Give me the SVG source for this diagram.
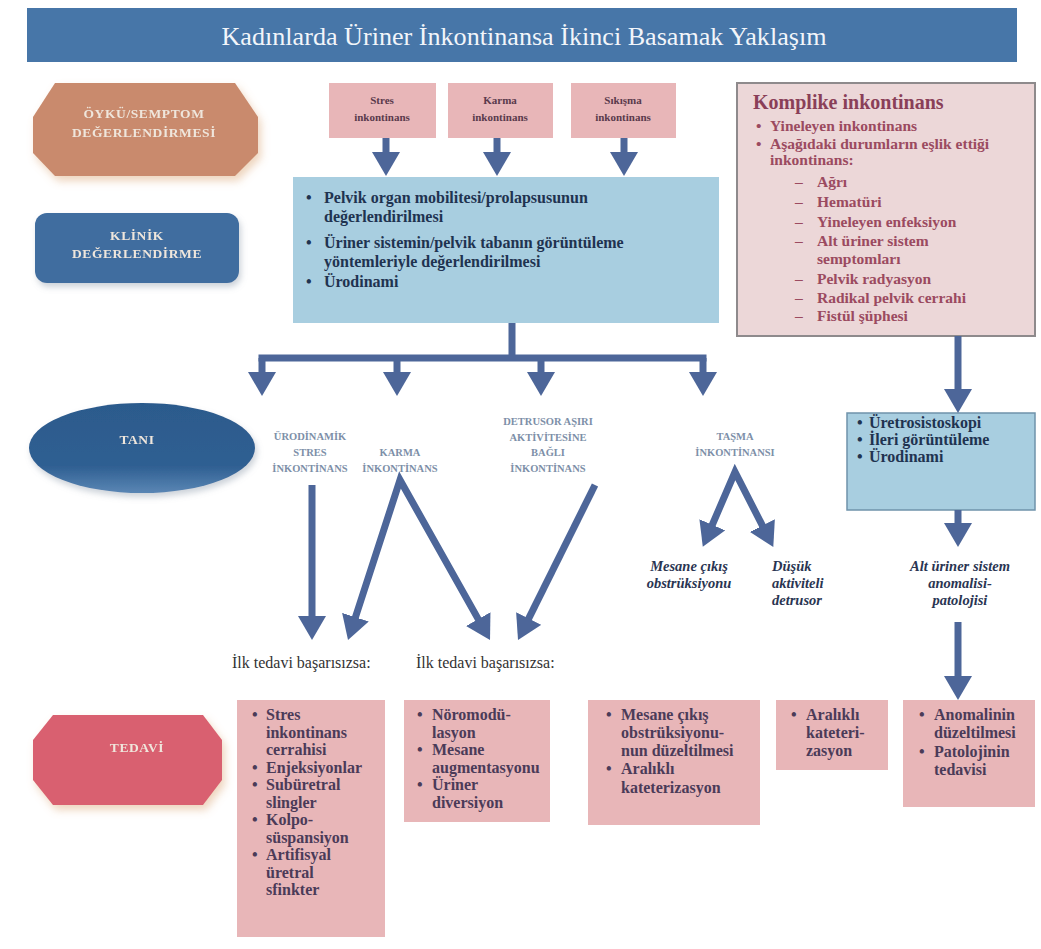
<svg xmlns="http://www.w3.org/2000/svg" width="1041" height="949" viewBox="0 0 1041 949">
<style>
text{font-family:"Liberation Serif","Times New Roman",serif}
.lbl{font-weight:bold;font-size:13.5px;fill:#efe6dc;text-anchor:middle;letter-spacing:0.6px}
.pk{fill:#e8b6b8}
.pkt{font-weight:bold;font-size:11px;fill:#5a3a4c;text-anchor:middle}
.bt{font-weight:bold;font-size:16px;fill:#1f3350}
.kt{font-weight:bold;font-size:15.5px;fill:#9b4a60}
.dx{font-weight:bold;font-size:10.5px;fill:#7d8fa8;text-anchor:middle}
.it{font-weight:bold;font-style:italic;font-size:14.5px;fill:#2a3552}
.ilk{font-size:16px;fill:#333}
.tt{font-weight:bold;font-size:16px;fill:#4b3b58}
.conn{fill:none;stroke:#4d6699;stroke-width:7}
</style>
<defs>
<marker id="ah" viewBox="0 0 24 28" refX="4" refY="14" markerWidth="24" markerHeight="28" markerUnits="userSpaceOnUse" orient="auto-start-reverse">
<path d="M0,0 L24,14 L0,28 z" fill="#4d6699"/>
</marker>
<filter id="sh" x="-20%" y="-20%" width="140%" height="160%">
<feDropShadow dx="3" dy="5" stdDeviation="4" flood-color="#d9a070" flood-opacity="0.45"/>
</filter>
<filter id="sh2" x="-20%" y="-20%" width="140%" height="160%">
<feDropShadow dx="2" dy="4" stdDeviation="3" flood-color="#8090a0" flood-opacity="0.4"/>
</filter>
<linearGradient id="tg" x1="0" y1="0" x2="0" y2="1">
<stop offset="0" stop-color="#2c5a8c"/>
<stop offset="0.7" stop-color="#2f5f92"/>
<stop offset="1" stop-color="#5a86b4"/>
</linearGradient>
</defs>
<rect width="1041" height="949" fill="#ffffff"/>

<g id="title">
<rect x="27" y="8" width="990" height="54" fill="#4776a8"/>
<text x="524" y="45" font-size="26" fill="#f2f5fa" text-anchor="middle" textLength="605" lengthAdjust="spacingAndGlyphs">Kadınlarda Üriner İnkontinansa İkinci Basamak Yaklaşım</text>
</g>

<g id="oyku" filter="url(#sh)">
<polygon points="55,83 235,83 258,117 258,153 235,176 55,176 33,153 33,117" fill="#c98a6d"/>
<text class="lbl" x="144" y="118">ÖYKÜ/SEMPTOM</text>
<text class="lbl" x="144" y="137">DEĞERLENDİRMESİ</text>
</g>

<g id="klinik" filter="url(#sh2)">
<rect x="35" y="213" width="204" height="70" rx="12" fill="#3f6d9f"/>
<text class="lbl" x="137" y="240" fill="#dfe7f0">KLİNİK</text>
<text class="lbl" x="137" y="258" fill="#dfe7f0">DEĞERLENDİRME</text>
</g>

<g id="tani" filter="url(#sh2)">
<ellipse cx="142" cy="448" rx="113" ry="45" fill="url(#tg)"/>
<text class="lbl" x="137" y="444" font-size="12.5" fill="#dfe7f0">TANI</text>
</g>

<g id="tedavi" filter="url(#sh)">
<polygon points="53,715 203,715 222,740 222,780 203,805 53,805 33,780 33,740" fill="#d9606f"/>
<text class="lbl" x="137" y="752" font-size="12.5">TEDAVİ</text>
</g>

<g id="stres-ink">
<rect class="pk" x="329" y="83" width="107" height="55"/>
<text class="pkt" x="382" y="104">Stres</text>
<text class="pkt" x="382" y="121">inkontinans</text>
</g>
<g id="karma-ink">
<rect class="pk" x="448" y="83" width="105" height="55"/>
<text class="pkt" x="500" y="104">Karma</text>
<text class="pkt" x="500" y="121">inkontinans</text>
</g>
<g id="sikisma-ink">
<rect class="pk" x="571" y="83" width="105" height="55"/>
<text class="pkt" x="623" y="104">Sıkışma</text>
<text class="pkt" x="623" y="121">inkontinans</text>
</g>

<g id="klinik-box">
<rect x="293" y="177" width="426" height="146" fill="#a8cee0"/>
<text class="bt" x="306" y="203">•</text>
<text class="bt" x="324" y="203">Pelvik  organ mobilitesi/prolapsusunun</text>
<text class="bt" x="324" y="222">değerlendirilmesi</text>
<text class="bt" x="306" y="248">•</text>
<text class="bt" x="324" y="248">Üriner sistemin/pelvik tabanın görüntüleme</text>
<text class="bt" x="324" y="267">yöntemleriyle değerlendirilmesi</text>
<text class="bt" x="306" y="287">•</text>
<text class="bt" x="324" y="287">Ürodinami</text>
</g>

<g id="komplike">
<rect x="737" y="83" width="298" height="253" fill="#ecd7d8" stroke="#8e8a8c" stroke-width="2"/>
<text x="753" y="109" font-size="20" font-weight="bold" fill="#8a3f58">Komplike inkontinans</text>
<text class="kt" x="756" y="131">•</text>
<text class="kt" x="770" y="131">Yineleyen inkontinans</text>
<text class="kt" x="756" y="149">•</text>
<text class="kt" x="770" y="149">Aşağıdaki durumların eşlik ettiği</text>
<text class="kt" x="770" y="165">inkontinans:</text>
<text class="kt" x="795" y="187">–</text><text class="kt" x="817" y="187">Ağrı</text>
<text class="kt" x="795" y="207">–</text><text class="kt" x="817" y="207">Hematüri</text>
<text class="kt" x="795" y="227">–</text><text class="kt" x="817" y="227">Yineleyen enfeksiyon</text>
<text class="kt" x="795" y="246">–</text><text class="kt" x="817" y="246">Alt üriner sistem</text>
<text class="kt" x="817" y="264">semptomları</text>
<text class="kt" x="795" y="284">–</text><text class="kt" x="817" y="284">Pelvik radyasyon</text>
<text class="kt" x="795" y="303">–</text><text class="kt" x="817" y="303">Radikal pelvik cerrahi</text>
<text class="kt" x="795" y="321">–</text><text class="kt" x="817" y="321">Fistül şüphesi</text>
</g>

<g id="ileri-box">
<rect x="847" y="413" width="188" height="97" fill="#a8cee0" stroke="#6f93ab" stroke-width="1.5"/>
<text class="bt" x="857" y="428" font-size="13">•</text><text class="bt" x="869" y="428" font-size="13">Üretrosistoskopi</text>
<text class="bt" x="857" y="445" font-size="13">•</text><text class="bt" x="869" y="445" font-size="13">İleri görüntüleme</text>
<text class="bt" x="857" y="462" font-size="13">•</text><text class="bt" x="869" y="462" font-size="13">Ürodinami</text>
</g>

<g id="dx-urodinamik">
<text class="dx" x="310" y="440">ÜRODİNAMİK</text>
<text class="dx" x="310" y="456">STRES</text>
<text class="dx" x="310" y="472">İNKONTİNANS</text>
</g>
<g id="dx-karma">
<text class="dx" x="400" y="456">KARMA</text>
<text class="dx" x="400" y="472">İNKONTİNANS</text>
</g>
<g id="dx-detrusor">
<text class="dx" x="548" y="425">DETRUSOR AŞIRI</text>
<text class="dx" x="548" y="441">AKTİVİTESİNE</text>
<text class="dx" x="548" y="456">BAĞLI</text>
<text class="dx" x="548" y="472">İNKONTİNANS</text>
</g>
<g id="dx-tasma">
<text class="dx" x="735" y="440">TAŞMA</text>
<text class="dx" x="735" y="456">İNKONTİNANSI</text>
</g>

<g id="mesane-obs">
<text class="it" x="689" y="571" text-anchor="middle">Mesane çıkış</text>
<text class="it" x="689" y="588" text-anchor="middle">obstrüksiyonu</text>
</g>
<g id="dusuk">
<text class="it" x="772" y="571">Düşük</text>
<text class="it" x="772" y="588">aktiviteli</text>
<text class="it" x="772" y="605">detrusor</text>
</g>
<g id="alt-uriner">
<text class="it" x="960" y="571" text-anchor="middle">Alt üriner sistem</text>
<text class="it" x="960" y="588" text-anchor="middle">anomalisi-</text>
<text class="it" x="960" y="605" text-anchor="middle">patolojisi</text>
</g>

<g id="ilk1"><text class="ilk" x="232" y="668">İlk tedavi başarısızsa:</text></g>
<g id="ilk2"><text class="ilk" x="416" y="668">İlk tedavi başarısızsa:</text></g>

<g id="tx-stres">
<rect class="pk" x="237" y="700" width="148" height="237"/>
<text class="tt" x="252" y="720">•</text><text class="tt" x="266" y="720">Stres</text>
<text class="tt" x="266" y="737.5">inkontinans</text>
<text class="tt" x="266" y="755">cerrahisi</text>
<text class="tt" x="252" y="772.5">•</text><text class="tt" x="266" y="772.5">Enjeksiyonlar</text>
<text class="tt" x="252" y="790">•</text><text class="tt" x="266" y="790">Subüretral</text>
<text class="tt" x="266" y="807.5">slingler</text>
<text class="tt" x="252" y="825">•</text><text class="tt" x="266" y="825">Kolpo-</text>
<text class="tt" x="266" y="842.5">süspansiyon</text>
<text class="tt" x="252" y="860">•</text><text class="tt" x="266" y="860">Artifisyal</text>
<text class="tt" x="266" y="877.5">üretral</text>
<text class="tt" x="266" y="895">sfinkter</text>
</g>
<g id="tx-noromod">
<rect class="pk" x="404" y="700" width="146" height="122"/>
<text class="tt" x="417" y="720">•</text><text class="tt" x="432" y="720">Nöromodü-</text>
<text class="tt" x="432" y="737.5">lasyon</text>
<text class="tt" x="417" y="755">•</text><text class="tt" x="432" y="755">Mesane</text>
<text class="tt" x="432" y="772.5">augmentasyonu</text>
<text class="tt" x="417" y="790">•</text><text class="tt" x="432" y="790">Üriner</text>
<text class="tt" x="432" y="807.5">diversiyon</text>
</g>
<g id="tx-mesane">
<rect class="pk" x="588" y="700" width="172" height="125"/>
<text class="tt" x="606" y="720">•</text><text class="tt" x="621" y="720">Mesane çıkış</text>
<text class="tt" x="621" y="738">obstrüksiyonu-</text>
<text class="tt" x="621" y="756">nun düzeltilmesi</text>
<text class="tt" x="606" y="774">•</text><text class="tt" x="621" y="774">Aralıklı</text>
<text class="tt" x="621" y="793">kateterizasyon</text>
</g>
<g id="tx-aralikli">
<rect class="pk" x="776" y="700" width="112" height="70"/>
<text class="tt" x="791" y="720">•</text><text class="tt" x="806" y="720">Aralıklı</text>
<text class="tt" x="806" y="738">kateteri-</text>
<text class="tt" x="806" y="756">zasyon</text>
</g>
<g id="tx-anomali">
<rect class="pk" x="903" y="700" width="132" height="107"/>
<text class="tt" x="919" y="720">•</text><text class="tt" x="934" y="720">Anomalinin</text>
<text class="tt" x="934" y="738">düzeltilmesi</text>
<text class="tt" x="919" y="757">•</text><text class="tt" x="934" y="757">Patolojinin</text>
<text class="tt" x="934" y="775">tedavisi</text>
</g>

<g id="connectors">
<path class="conn" d="M386,138 V156" marker-end="url(#ah)"/>
<path class="conn" d="M497,138 V156" marker-end="url(#ah)"/>
<path class="conn" d="M624,138 V156" marker-end="url(#ah)"/>
<path class="conn" d="M512,323 V358 M258.5,358 H706.5"/>
<path class="conn" d="M262,358 V376" marker-end="url(#ah)"/>
<path class="conn" d="M397,358 V376" marker-end="url(#ah)"/>
<path class="conn" d="M541,358 V376" marker-end="url(#ah)"/>
<path class="conn" d="M703,358 V376" marker-end="url(#ah)"/>
<path class="conn" d="M958,336 V393" marker-end="url(#ah)"/>
<path class="conn" d="M958,510 V527" marker-end="url(#ah)"/>
<path class="conn" d="M958,622 V680" marker-end="url(#ah)"/>
<path class="conn" d="M312,485 V620" marker-end="url(#ah)"/>
<path class="conn" d="M354.2,621 L400,480 L480.2,622.6" marker-start="url(#ah)" marker-end="url(#ah)"/>
<path class="conn" d="M595,485 L526.9,622.1" marker-end="url(#ah)"/>
<path class="conn" d="M710.7,528.5 L735,472 L764.2,529.1" marker-start="url(#ah)" marker-end="url(#ah)"/>
</g>
</svg>
